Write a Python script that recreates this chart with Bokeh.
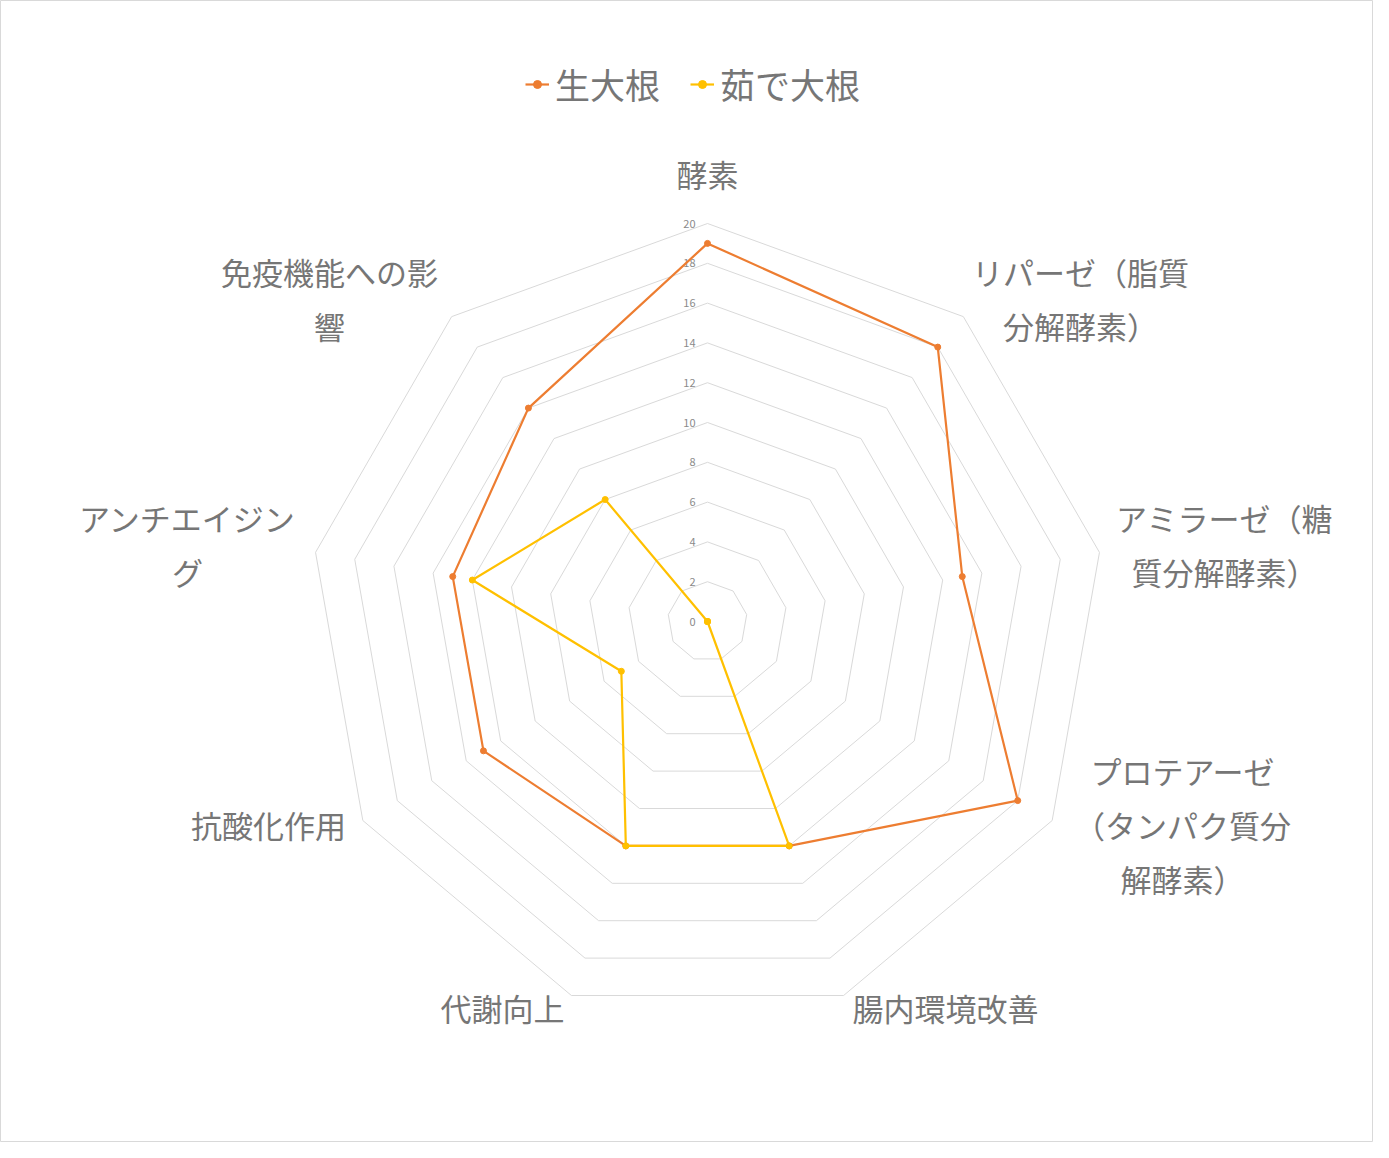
import numpy as np
from bokeh.plotting import figure
from bokeh.models import Range1d, Legend, LegendItem
from bokeh.core.properties import value
from bokeh.embed import file_html
from bokeh.resources import INLINE

# data
categories = ["酵素", "リパーゼ（脂質\n分解酵素）", "アミラーゼ（糖\n質分解酵素）",
              "プロテアーゼ\n（タンパク質分\n解酵素）", "腸内環境改善", "代謝向上",
              "抗酸化作用", "アンチエイジン\nグ", "免疫機能への影\n響"]
raw_daikon = [19, 18, 13, 18, 12, 12, 13, 13, 14]
boiled_daikon = [0, 0, 0, 0, 12, 12, 5, 12, 8]
ticks = [0, 2, 4, 6, 8, 10, 12, 14, 16, 18, 20]

FONT = "Noto Sans CJK JP"
GRAY = "#767676"
ORANGE = "#ED7D31"
YELLOW = "#FFC000"

# layout: 1 value unit = 19.9 px, centre at (707, 621)
s = 19.9
cx, cy = 707, 621
W, H = 1373, 1142

p = figure(width=W, height=H, output_backend="svg", toolbar_location=None,
           x_axis_location=None, y_axis_location=None, min_border=0,
           x_range=Range1d(-cx / s, (W - cx) / s),
           y_range=Range1d(-(H - cy) / s, cy / s))
p.grid.visible = False
p.outline_line_color = "#d9d9d9"
p.background_fill_color = "white"

n = len(categories)
theta = np.pi / 2 - 2 * np.pi * np.arange(n) / n

# polygon gridlines
for t in ticks[1:]:
    xs = list(t * np.cos(theta)) + [t * np.cos(theta[0])]
    ys = list(t * np.sin(theta)) + [t * np.sin(theta[0])]
    p.line(xs, ys, line_color="#d9d9d9", line_width=1)

# tick labels along the top spoke
p.text(x=[-12 / s] * len(ticks), y=ticks, text=[str(t) for t in ticks],
       text_align="right", text_baseline="middle", text_font=value(FONT),
       text_font_size="11px", text_color="#8a8a8a")


def series(vals, color):
    v = np.array(vals, dtype=float)
    xs = v * np.cos(theta)
    ys = v * np.sin(theta)
    r1 = p.line(list(xs) + [xs[0]], list(ys) + [ys[0]], line_color=color, line_width=2.2)
    r2 = p.scatter(xs, ys, size=6, fill_color=color, line_color=color, marker="circle")
    return [r1, r2]


r_raw = series(raw_daikon, ORANGE)
r_boiled = series(boiled_daikon, YELLOW)

# category labels (pixel centres)
label_px = [(707, 173), (1080, 298), (1224, 544), (1182, 824), (945, 1007),
            (502, 1007), (268, 824), (187, 544), (329, 298)]
p.text(x=[(a - cx) / s for a, b in label_px], y=[(cy - b) / s for a, b in label_px],
       text=categories, text_align="center", text_baseline="middle",
       text_font=value(FONT), text_font_size="31px", text_color=GRAY,
       text_line_height=1.2)

legend = Legend(items=[LegendItem(label="生大根", renderers=r_raw),
                       LegendItem(label="茹で大根", renderers=r_boiled)],
                orientation="horizontal", location=(525, 1033),
                label_text_font=FONT, label_text_font_size="35px",
                label_text_color=GRAY, glyph_width=24, glyph_height=20,
                label_standoff=6, spacing=30, padding=0, margin=0,
                border_line_alpha=0, background_fill_alpha=0)
p.add_layout(legend, "center")

open("out.html", "w").write(file_html(p, INLINE))
